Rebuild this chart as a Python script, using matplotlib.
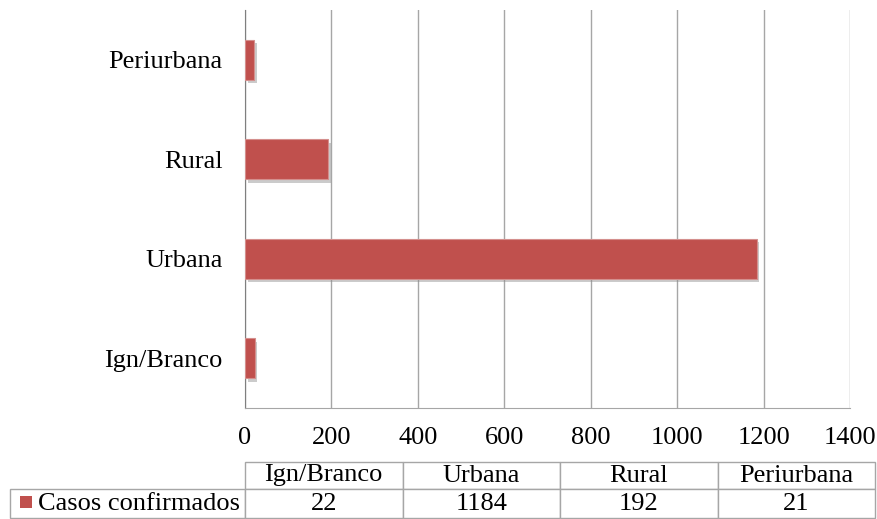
import matplotlib
matplotlib.use("Agg")
import matplotlib.pyplot as plt
import matplotlib.patheffects as pe
from matplotlib.patches import Rectangle

categories = ["Ign/Branco", "Urbana", "Rural", "Periurbana"]
casos = [22, 1184, 192, 21]
xticks = [0, 200, 400, 600, 800, 1000, 1200, 1400]
serie = "Casos confirmados"

plt.rcParams["font.family"] = ["Liberation Serif", "DejaVu Serif"]
plt.rcParams["font.size"] = 19

W, H = 877, 519
fig = plt.figure(figsize=(W / 100, H / 100), dpi=100)

# chart area
ax = fig.add_axes([245 / W, 1 - 408 / H, (850 - 245) / W, (408 - 10) / H])
ypos = list(range(len(categories)))
bars = ax.barh(ypos, casos, height=0.4, color="#C0504D", edgecolor="#D48F8D",
               linewidth=0.8, zorder=3)
for b in bars:
    b.set_path_effects([pe.SimplePatchShadow(offset=(2, -2.5), shadow_rgbFace="#8C8C8C", alpha=0.45),
                        pe.Normal()])

ax.set_xlim(0, 1400)
ax.set_ylim(-0.5, len(categories) - 0.5)
ax.set_xticks(xticks)
ax.set_xticklabels([str(v) for v in xticks])
ax.set_yticks(ypos)
ax.set_yticklabels(categories)
ax.tick_params(axis="both", length=0)
ax.tick_params(axis="x", pad=14)
ax.tick_params(axis="y", pad=16)
ax.grid(axis="x", color="#A6A6A6", linewidth=1, zorder=0)
ax.set_axisbelow(True)
for s in ["top", "right"]:
    ax.spines[s].set_visible(False)
ax.spines["left"].set_color("#7F7F7F")
ax.spines["bottom"].set_color("#A6A6A6")

# data table
tax = fig.add_axes([10 / W, 1 - 518 / H, (875 - 10) / W, (518 - 462) / H])
tax.axis("off")
cw0 = 235 / 865
cw = (1 - cw0) / len(categories)
tbl = tax.table(cellText=[[""] + categories, [serie] + [str(v) for v in casos]],
                colWidths=[cw0] + [cw] * len(categories),
                cellLoc="center", bbox=[0, 0, 1, 1])
tbl.auto_set_font_size(False)
tbl.set_fontsize(19)
for (r, c), cell in tbl.get_celld().items():
    cell.set_edgecolor("#A6A6A6")
    cell.set_linewidth(1)
    if r == 0 and c == 0:
        cell.visible_edges = ""
    if r == 0:
        cell.set_height(27 / 56)
    else:
        cell.set_height(29 / 56)
lab = tbl[1, 0]
lab._loc = "left"
lab.PAD = 28 / 235
lab.get_text().set_ha("left")

# legend key in table
fig.patches.append(Rectangle((20 / W, 1 - 508 / H), 12 / W, 12 / H,
                             transform=fig.transFigure, facecolor="#C0504D",
                             edgecolor="none"))

fig.savefig("out.png", dpi=100)
